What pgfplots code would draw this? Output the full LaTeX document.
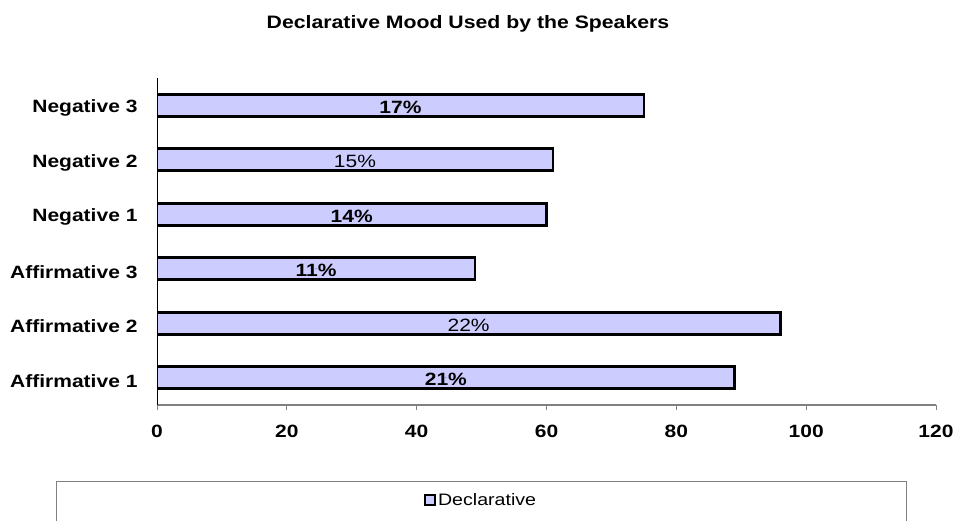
\documentclass[border=0pt]{standalone}
\usepackage{fontspec}
\setmainfont{Liberation Sans}[FakeStretch=1.18]
\setsansfont{Liberation Sans}[FakeStretch=1.18]
\usepackage{pgfplots}
\pgfplotsset{compat=1.18}
\usepackage{pgfplotstable}
\definecolor{barfill}{HTML}{CCCCFF}
\definecolor{axgray}{HTML}{808080}
% bars: category index, value
\pgfplotstableread{
y v
0 89
1 96
2 49
3 60
4 61
5 75
}\datatable
% labels shown in bold
\pgfplotstableread{
y v pct
0 89 21
2 49 11
3 60 14
5 75 17
}\boldlabels
% labels shown in regular weight
\pgfplotstableread{
y v pct
1 96 22
4 61 15
}\plainlabels
\begin{document}
\begin{tikzpicture}[x=1pt,y=1pt]
\path[use as bounding box] (0,0) rectangle (956,520);
\node[font=\bfseries\fontsize{18}{21}\selectfont, anchor=base] at (468,491) {Declarative Mood Used by the Speakers};
\draw[axgray, line width=1pt] (56,-10) rectangle (906,39);
\begin{axis}[at={(157pt,115pt)}, anchor=south west, scale only axis,
  width=779pt, height=327pt,
  xmin=0, xmax=120, ymin=-0.5, ymax=5.5,
  xtick={0,20,...,120}, ytick={0,...,5},
  yticklabels={Affirmative 1,Affirmative 2,Affirmative 3,Negative 1,Negative 2,Negative 3},
  axis x line*=bottom, axis y line*=left,
  x axis line style={axgray, line width=1.2pt, -},
  y axis line style={black, line width=0.8pt, -},
  xtick style={axgray, line width=1pt}, ytick style={draw=none},
  major tick length=5pt, tick align=outside,
  tick label style={font=\bfseries\fontsize{17.8}{20}\selectfont},
  xticklabel style={yshift=-12pt},
  yticklabel style={xshift=-11pt, yshift=-3pt},
  /pgf/number format/assume math mode=true,
  legend style={at={(axis description cs:0.416,-0.2905)}, anchor=center, draw=none, fill=none,
    font=\fontsize{16.6}{19}\selectfont, inner sep=0pt},
  legend cell align=left,
  nodes near coords={\pgfplotspointmeta\%},
]
\addplot[xbar, bar width=22pt, fill=barfill, draw=black, line width=2.6pt,
  nodes near coords={},
  legend image code/.code={\draw[fill=barfill,draw=black,line width=2pt] (0pt,-5pt) rectangle (10pt,5pt);}]
  table[x=v, y=y] {\datatable};
\addlegendentry{Declarative}
\addplot[forget plot, only marks, mark=*, mark size=0.1pt, mark options={draw=none, fill=none},
  point meta=explicit symbolic,
  every node near coord/.style={anchor=center, inner sep=0pt, yshift=-2pt, font=\bfseries\fontsize{17.8}{20}\selectfont}]
  table[x expr=\thisrow{v}/2, y=y, meta=pct] {\boldlabels};
\addplot[forget plot, only marks, mark=*, mark size=0.1pt, mark options={draw=none, fill=none},
  point meta=explicit symbolic,
  every node near coord/.style={anchor=center, inner sep=0pt, yshift=-2pt, font=\fontsize{17.8}{20}\selectfont}]
  table[x expr=\thisrow{v}/2, y=y, meta=pct] {\plainlabels};
\end{axis}
\end{tikzpicture}
\end{document}
